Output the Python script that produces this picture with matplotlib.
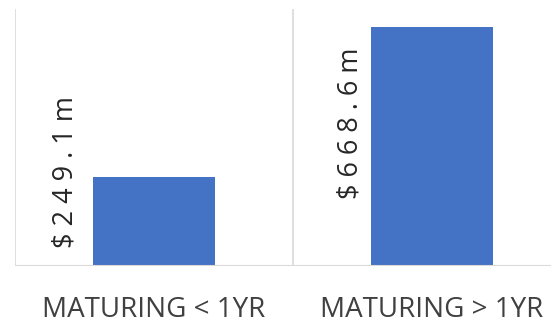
import matplotlib
matplotlib.use('Agg')
import matplotlib.pyplot as plt

categories = ['MATURING < 1YR', 'MATURING > 1YR']
values = [249.1, 668.6]
value_labels = ['$249.1m', '$668.6m']

bar_color = '#4472C4'
grid_color = '#D9D9D9'
text_color = '#404040'

plt.rcParams['font.family'] = ['Open Sans', 'DejaVu Sans']

fig = plt.figure(figsize=(5.51, 3.23), dpi=100)
W, H = 551, 323
# axes spans -0.5..1.5 in x; right end sits past the figure edge
ax = fig.add_axes([15 / W, (H - 266) / H, 556 / W, (266 - 9) / H])
ax.set_xlim(-0.5, 1.5)
ax.set_ylim(0, 720)

x = list(range(len(categories)))
ax.bar(x, values, width=0.44, color=bar_color, zorder=2)

# category separators and baseline
for b in [-0.5, 0.5, 1.5]:
    ax.axvline(b, color=grid_color, lw=1.2, zorder=1)
ax.axhline(0, color=grid_color, lw=1.5, zorder=3)

for s in ax.spines.values():
    s.set_visible(False)
ax.set_xticks(x)
ax.set_xticklabels(categories, fontsize=20, color=text_color)
ax.tick_params(axis='x', length=0, pad=21.5)
ax.set_yticks([])

# data labels, rotated, letter-spaced, left of each bar
label_dx = [-0.317, -0.293]
label_y = [50, 613]
label_va = ['bottom', 'top']
for xi, lab, dx, ly, va in zip(x, value_labels, label_dx, label_y, label_va):
    ax.text(xi + dx, ly, ' '.join(lab), rotation=90, ha='center', va=va,
            fontsize=19.5, color='#262626', zorder=4)

fig.savefig('out.png', dpi=100)
